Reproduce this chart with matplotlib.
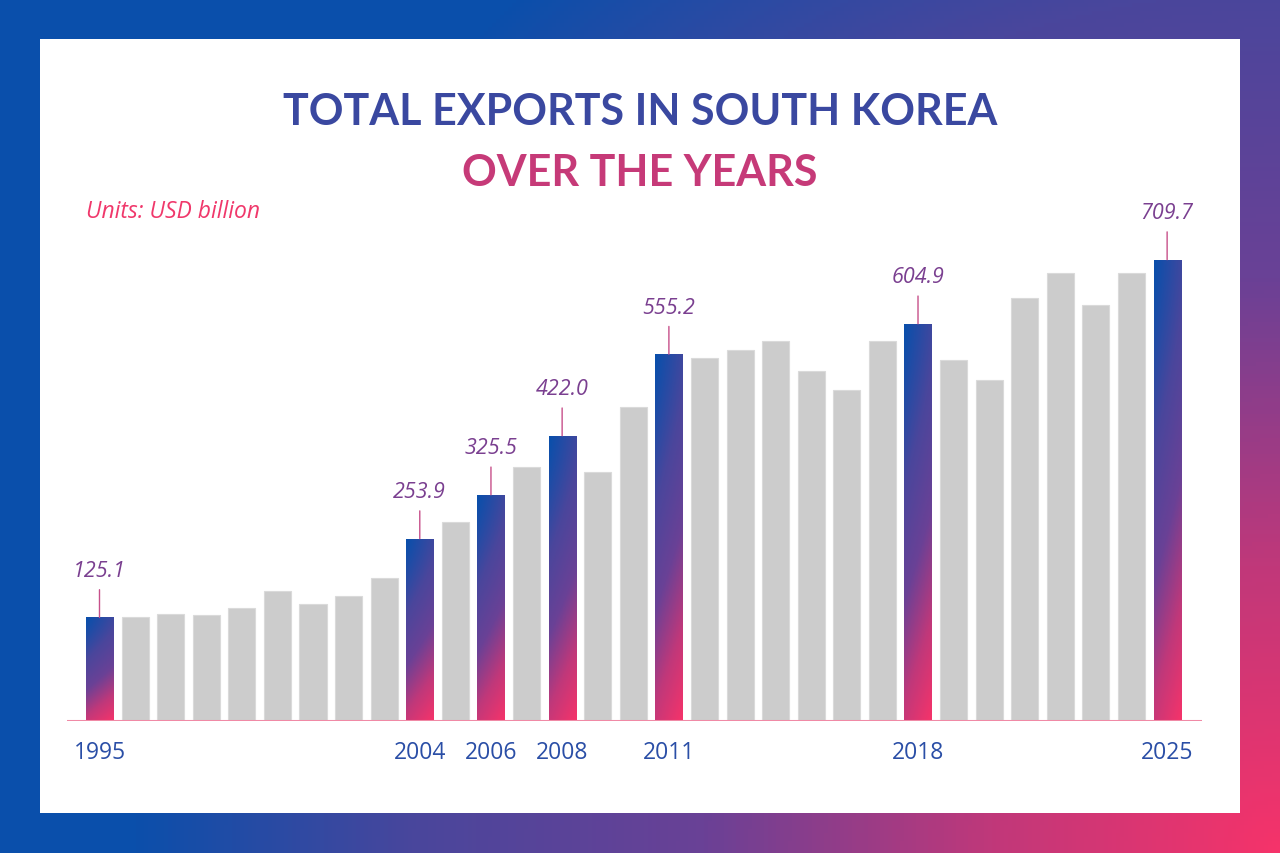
import matplotlib.pyplot as plt
import numpy as np
from matplotlib.colors import LinearSegmentedColormap
from matplotlib.patches import Rectangle

# data (USD billion)
years = list(range(1995, 2026))
exports = [
    125.1, 125.2, 130.7, 129.0, 140.4, 168.7, 146.5, 160.0, 189.5, 253.9,
    281.5, 325.5, 370.9, 422.0, 362.2, 468.4, 555.2, 548.5, 562.0, 576.7,
    528.2, 497.2, 576.2, 604.9, 545.7, 513.0, 647.0, 688.3, 635.1, 687.4,
    709.7,
]
highlight_years = [1995, 2004, 2006, 2008, 2011, 2018, 2025]

blue = "#0a4fab"
purple = "#6a4196"
pink = "#f5336a"
grad = LinearSegmentedColormap.from_list("bp", [blue, "#4a469c", purple, "#c0387a", pink])

fig = plt.figure(figsize=(12.8, 8.54), dpi=100)

# gradient frame behind everything (radial from the bottom-right corner)
bg = fig.add_axes([0, 0, 1, 1], zorder=-10)
px, py = np.meshgrid(np.linspace(0, 1280, 320), np.linspace(0, 854, 214))
dist = np.hypot(1280 - px, 854 - py)
t = np.clip(1 - dist / 1150, 0, 1)
bg.imshow(t, cmap=grad, aspect="auto", extent=(0, 1, 1, 0), vmin=0, vmax=1)
bg.set_xlim(0, 1)
bg.set_ylim(1, 0)
bg.axis("off")
bg.add_patch(Rectangle((40 / 1280, 40 / 854), 1200 / 1280, 774 / 854,
                       facecolor="white", edgecolor="none"))

# titles
fig.text(0.5, 1 - 112 / 854, "TOTAL EXPORTS IN SOUTH KOREA", ha="center", va="center",
         fontsize=31, fontweight="bold", family="Lato", color="#3a48a0")
fig.text(0.5, 1 - 173 / 854, "OVER THE YEARS", ha="center", va="center",
         fontsize=31, fontweight="bold", family="Lato", color="#c63a78")
fig.text(86 / 1280, 1 - 212 / 854, "Units: USD billion", ha="left", va="center",
         fontsize=16.5, style="italic", family="Open Sans", color="#f0386b")

ax = fig.add_axes([67 / 1280, (854 - 722) / 854, 1135 / 1280, 522 / 854])
ax.set_facecolor("none")
ymin, ymax = -44, 808.8
w = 0.76

for i, (yr, v) in enumerate(zip(years, exports)):
    if yr in highlight_years:
        bar = ax.bar(i, v - ymin, bottom=ymin, width=w, facecolor="none",
                     edgecolor="none", zorder=2)[0]
        xf, yf = np.meshgrid(np.linspace(0, 1, 20), np.linspace(0, 1, 200))
        g = 0.8 * yf ** 1.3 + 0.2 * xf
        im = ax.imshow(g, cmap=grad, aspect="auto", vmin=0, vmax=1,
                       extent=(i - w / 2, i + w / 2, ymin, v), zorder=2)
        im.set_clip_path(bar)
        ax.annotate("", xy=(i, v), xytext=(0, 20), textcoords="offset points",
                    arrowprops=dict(arrowstyle="-", color="#c7508a", lw=1,
                                    shrinkA=0, shrinkB=0))
        ax.annotate(f"{v:.1f}", xy=(i, v), xytext=(0, 34), textcoords="offset points",
                    ha="center", va="center", fontsize=15.5, style="italic",
                    family="Open Sans", color="#7a3f90")
        ax.text(i, -0.060, str(yr), transform=ax.get_xaxis_transform(),
                ha="center", va="center", fontsize=16.5, family="Open Sans",
                color="#2a4ea6")
    else:
        ax.bar(i, v - ymin, bottom=ymin, width=w, color="#cccccc",
               edgecolor="#dadada", linewidth=0.8, zorder=2)

ax.axhline(ymin, color="#f08aa6", lw=2.2, zorder=3)
ax.set_xlim(-0.913, 30.98)
ax.set_ylim(ymin, ymax)
ax.axis("off")

fig.savefig("out.png", dpi=100)
